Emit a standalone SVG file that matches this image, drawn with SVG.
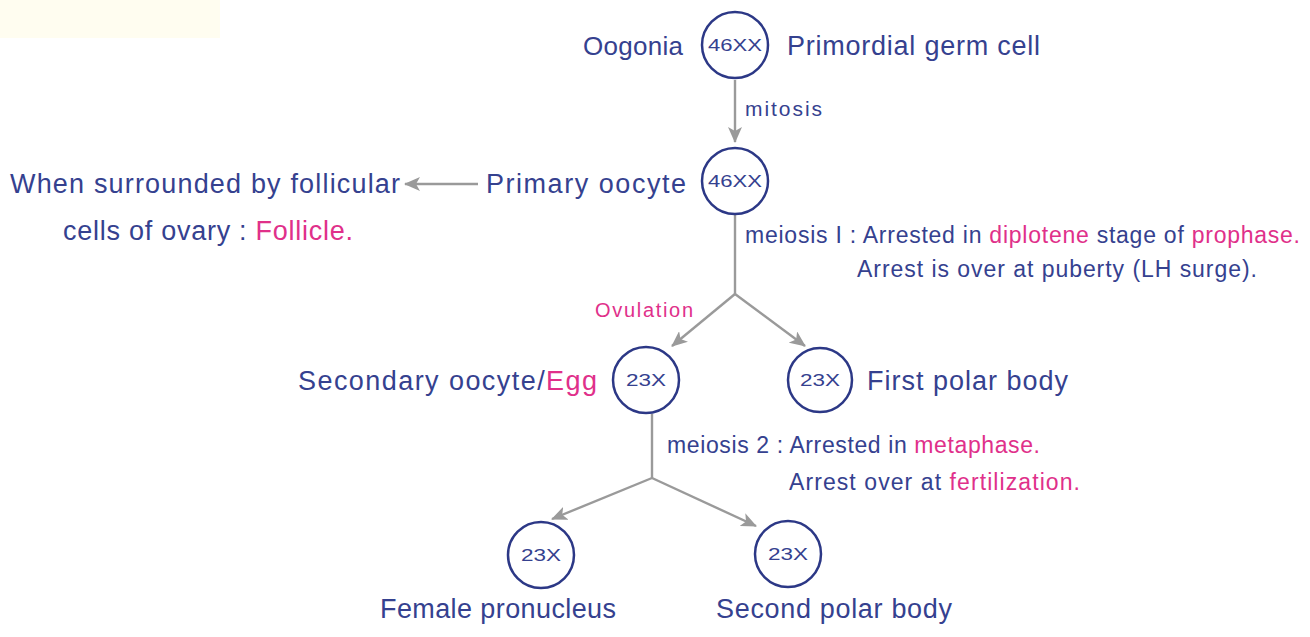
<svg xmlns="http://www.w3.org/2000/svg" width="1310" height="637" viewBox="0 0 1310 637">
<defs>
<style>
.t{font-family:"Liberation Sans",Arial,sans-serif;fill:#35418f;}
.p{fill:#e0308a;}
.cell{fill:none;stroke:#2c3886;stroke-width:2.5;}
.lbl{font-family:"Liberation Sans",Arial,sans-serif;fill:#35418f;font-size:17px;text-anchor:middle;}
.ln{fill:none;stroke:#9a9a9a;stroke-width:2.4;}
</style>
<marker id="ah" viewBox="0 0 16 14" refX="15" refY="7" markerWidth="16" markerHeight="14" markerUnits="userSpaceOnUse" orient="auto">
<path d="M0,0 L16,7 L0,14 L4,7 Z" fill="#9a9a9a"/>
</marker>
</defs>
<rect width="1310" height="637" fill="#ffffff"/>
<rect x="0" y="0" width="220" height="38" fill="#fffdf0"/>

<g id="connectors">
<line class="ln" x1="735" y1="80" x2="735" y2="142" marker-end="url(#ah)"/>
<line class="ln" x1="478" y1="184" x2="405" y2="184" marker-end="url(#ah)"/>
<polyline class="ln" points="735,214 735,294"/>
<line class="ln" x1="735" y1="294" x2="672" y2="346" marker-end="url(#ah)"/>
<line class="ln" x1="735" y1="294" x2="805" y2="346" marker-end="url(#ah)"/>
<polyline class="ln" points="652,414 652,478"/>
<line class="ln" x1="652" y1="478" x2="552" y2="519" marker-end="url(#ah)"/>
<line class="ln" x1="652" y1="478" x2="756" y2="526" marker-end="url(#ah)"/>
</g>

<g id="oogonia">
<circle class="cell" cx="735" cy="45" r="33"/>
<text class="lbl" x="735" y="51" textLength="54" lengthAdjust="spacingAndGlyphs">46XX</text>
<text class="t" x="583" y="55" font-size="26" textLength="100">Oogonia</text>
<text class="t" x="787" y="55" font-size="27" textLength="253">Primordial germ cell</text>
</g>

<g id="mitosis-label">
<text class="t" x="745" y="116" font-size="21" textLength="77">mitosis</text>
</g>

<g id="primary-oocyte">
<circle class="cell" cx="735" cy="181" r="33"/>
<text class="lbl" x="735" y="187" textLength="54" lengthAdjust="spacingAndGlyphs">46XX</text>
<text class="t" x="486" y="193" font-size="27" textLength="200">Primary oocyte</text>
</g>

<g id="follicle-note">
<text class="t" x="10" y="193" font-size="27" textLength="390">When surrounded by follicular</text>
<text class="t" x="63" y="240" font-size="27" textLength="290">cells of ovary : <tspan class="p">Follicle.</tspan></text>
</g>

<g id="meiosis1-note">
<text class="t" x="745" y="243" font-size="23" textLength="555">meiosis I : Arrested in <tspan class="p">diplotene</tspan> stage of <tspan class="p">prophase.</tspan></text>
<text class="t" x="857" y="277" font-size="23" textLength="400">Arrest is over at puberty (LH surge).</text>
</g>

<g id="ovulation-label">
<text class="t p" x="595" y="317" font-size="20" textLength="98">Ovulation</text>
</g>

<g id="secondary-oocyte">
<circle class="cell" cx="646" cy="380" r="33"/>
<text class="lbl" x="646" y="386" textLength="40" lengthAdjust="spacingAndGlyphs">23X</text>
<text class="t" x="298" y="390" font-size="27" textLength="299">Secondary oocyte/<tspan class="p">Egg</tspan></text>
</g>

<g id="first-polar-body">
<circle class="cell" cx="820" cy="380" r="32"/>
<text class="lbl" x="820" y="386" textLength="40" lengthAdjust="spacingAndGlyphs">23X</text>
<text class="t" x="867" y="390" font-size="27" textLength="201">First polar body</text>
</g>

<g id="meiosis2-note">
<text class="t" x="667" y="453" font-size="23" textLength="373">meiosis 2 : Arrested in <tspan class="p">metaphase.</tspan></text>
<text class="t" x="789" y="490" font-size="23" textLength="291">Arrest over at <tspan class="p">fertilization.</tspan></text>
</g>

<g id="female-pronucleus">
<circle class="cell" cx="541" cy="555" r="33"/>
<text class="lbl" x="541" y="561" textLength="40" lengthAdjust="spacingAndGlyphs">23X</text>
<text class="t" x="380" y="618" font-size="27" textLength="236">Female pronucleus</text>
</g>

<g id="second-polar-body">
<circle class="cell" cx="788" cy="554" r="33"/>
<text class="lbl" x="788" y="560" textLength="40" lengthAdjust="spacingAndGlyphs">23X</text>
<text class="t" x="716" y="618" font-size="27" textLength="236">Second polar body</text>
</g>
</svg>
